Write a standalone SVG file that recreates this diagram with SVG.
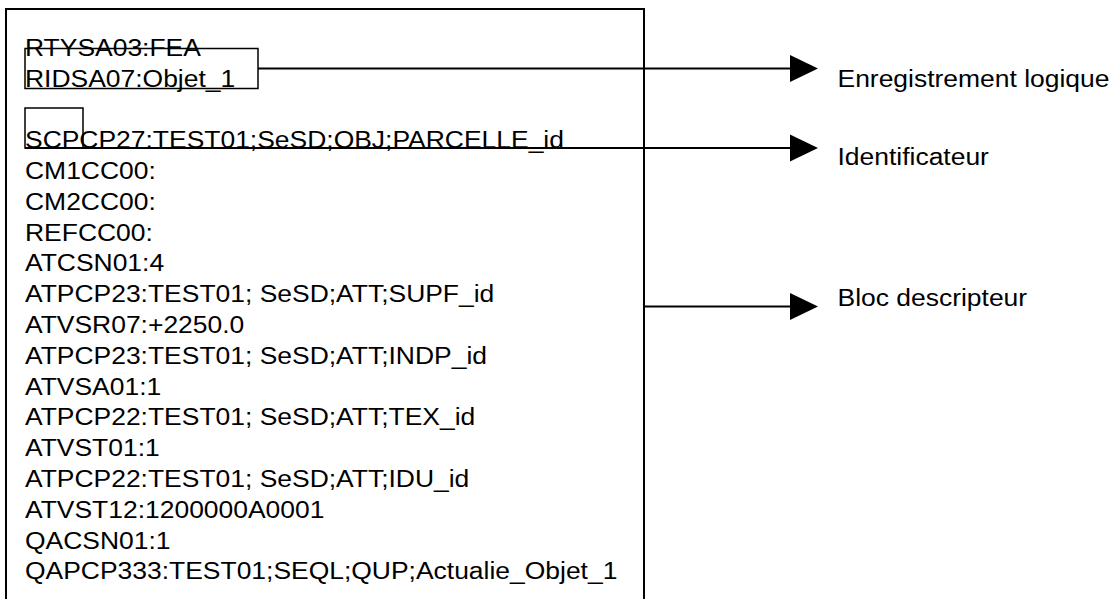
<svg xmlns="http://www.w3.org/2000/svg" width="1114" height="599" viewBox="0 0 1114 599">
<defs>
<style>
.t{font-family:"Liberation Sans",Arial,sans-serif;font-size:24.5px;fill:#000}
.frame{fill:none;stroke:#000;stroke-width:2}
.box{fill:none;stroke:#000;stroke-width:1.5}
.conn{fill:none;stroke:#000;stroke-width:2}
.head{fill:#000;stroke:none}
</style>
</defs>
<rect width="1114" height="599" fill="#fff"/>
<g id="record">
<rect class="frame" x="6" y="9" width="638" height="620"/>
<g transform="translate(25,0) scale(1.08,1)">
<text class="t" x="0" y="55.8">RTYSA03:FEA</text>
<text class="t" x="0" y="86.6">RIDSA07:Objet_1</text>
<text class="t" x="0" y="148.2">SCPCP27:TEST01;SeSD;OBJ;PARCELLE_id</text>
<text class="t" x="0" y="179">CM1CC00:</text>
<text class="t" x="0" y="209.8">CM2CC00:</text>
<text class="t" x="0" y="240.6">REFCC00:</text>
<text class="t" x="0" y="271.4">ATCSN01:4</text>
<text class="t" x="0" y="302.2">ATPCP23:TEST01; SeSD;ATT;SUPF_id</text>
<text class="t" x="0" y="333">ATVSR07:+2250.0</text>
<text class="t" x="0" y="363.8">ATPCP23:TEST01; SeSD;ATT;INDP_id</text>
<text class="t" x="0" y="394.6">ATVSA01:1</text>
<text class="t" x="0" y="425.4">ATPCP22:TEST01; SeSD;ATT;TEX_id</text>
<text class="t" x="0" y="456.2">ATVST01:1</text>
<text class="t" x="0" y="487">ATPCP22:TEST01; SeSD;ATT;IDU_id</text>
<text class="t" x="0" y="517.8">ATVST12:1200000A0001</text>
<text class="t" x="0" y="548.6">QACSN01:1</text>
<text class="t" x="0" y="579.4">QAPCP333:TEST01;SEQL;QUP;Actualie_Objet_1</text>
</g>
</g>
<g id="box-logique">
<rect class="box" x="25" y="48.5" width="233" height="40"/>
</g>
<g id="box-ident">
<rect class="box" x="25" y="108" width="58" height="40"/>
</g>
<g id="label-logique">
<text class="t" transform="translate(837.5,87) scale(1.08,1)" x="0" y="0">Enregistrement logique</text>
</g>
<g id="label-ident">
<text class="t" transform="translate(837.5,164.5) scale(1.08,1)" x="0" y="0">Identificateur</text>
</g>
<g id="label-bloc">
<text class="t" transform="translate(837.5,305.5) scale(1.08,1)" x="0" y="0">Bloc descripteur</text>
</g>
<g id="connectors">
<line class="conn" x1="258" y1="68.5" x2="792" y2="68.5"/>
<polygon class="head" points="790,55 818,68.5 790,82"/>
<line class="conn" x1="25" y1="148" x2="792" y2="148"/>
<polygon class="head" points="790,134.5 818,148 790,161.5"/>
<line class="conn" x1="644" y1="306.5" x2="792" y2="306.5"/>
<polygon class="head" points="790,293 818,306.5 790,320"/>
</g>
</svg>
